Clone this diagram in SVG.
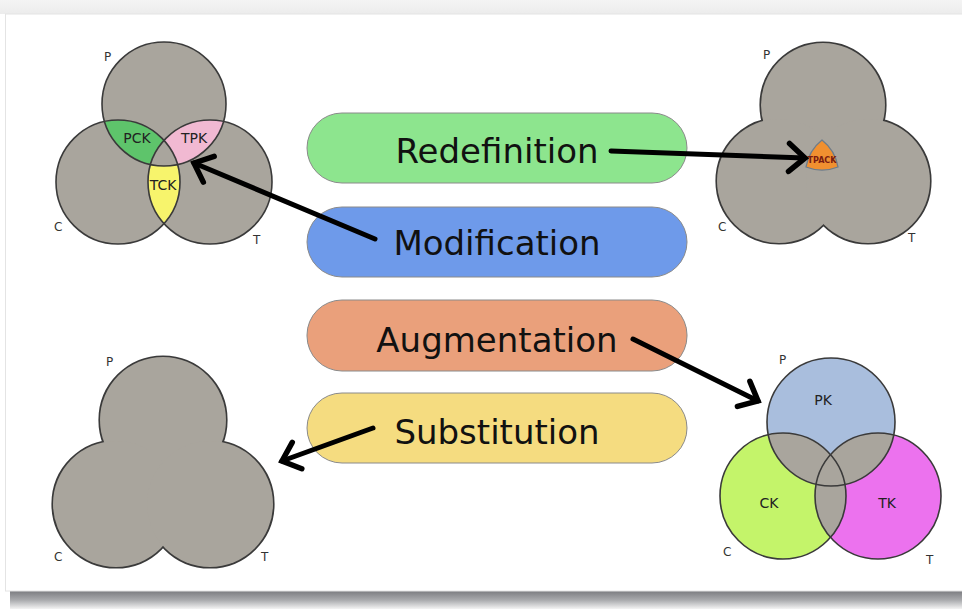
<svg xmlns="http://www.w3.org/2000/svg" width="962" height="613" viewBox="0 0 962 613">
<style>
  .lbl{font-family:"DejaVu Sans",Verdana,sans-serif;font-size:12px;fill:#333}
  .rg{font-family:"DejaVu Sans",Verdana,sans-serif;font-size:14px;fill:#222;text-anchor:middle}
  .pill{stroke:#8a8a8a;stroke-width:1}
  .pt{font-family:"DejaVu Sans",Verdana,sans-serif;font-size:34px;fill:#111;text-anchor:middle}
  .ol{fill:none;stroke:#3a3a3a;stroke-width:1.6}
  .gray{fill:#a9a59d}
  .conn{stroke:#000;stroke-width:5;fill:none;stroke-linecap:round;marker-end:url(#chev)}
</style>
<defs>
  <linearGradient id="topg" x1="0" y1="0" x2="0" y2="1">
    <stop offset="0" stop-color="#f4f4f4"/><stop offset="1" stop-color="#ececec"/>
  </linearGradient>
  <linearGradient id="shd" x1="0" y1="0" x2="0" y2="1">
    <stop offset="0" stop-color="#7b7c80"/><stop offset="0.5" stop-color="#a9aaad"/><stop offset="1" stop-color="#f4f4f4"/>
  </linearGradient>
  <marker id="chev" markerUnits="userSpaceOnUse" viewBox="-24 -18 28 36" markerWidth="28" markerHeight="36" refX="0" refY="0" orient="auto">
    <path d="M-16,-14 L0,0 L-16,14" fill="none" stroke="#000" stroke-width="5.5" stroke-linecap="round" stroke-linejoin="miter"/>
  </marker>
  <clipPath id="tlP"><circle cx="164" cy="104" r="62"/></clipPath>
  <clipPath id="tlC"><circle cx="118" cy="182" r="62"/></clipPath>
  <clipPath id="tlT"><circle cx="210" cy="182" r="62"/></clipPath>
  <clipPath id="brP"><circle cx="831" cy="422" r="64"/></clipPath>
  <clipPath id="brC"><circle cx="783" cy="496" r="63"/></clipPath>
  <clipPath id="brT"><circle cx="878" cy="496" r="63"/></clipPath>
</defs>

<rect x="0" y="0" width="962" height="613" fill="#ffffff"/>
<rect x="0" y="0" width="962" height="14" fill="url(#topg)"/>
<rect x="10" y="591" width="952" height="18" fill="url(#shd)"/>
<rect x="5.5" y="14" width="960" height="577" fill="#ffffff" stroke="#e4e4e4" stroke-width="1"/>

<!-- top-left: Venn with overlaps -->
<g id="venn-modification">
  <circle class="gray" cx="164" cy="104" r="62"/>
  <circle class="gray" cx="118" cy="182" r="62"/>
  <circle class="gray" cx="210" cy="182" r="62"/>
  <circle cx="118" cy="182" r="62" fill="#5ec46b" clip-path="url(#tlP)"/>
  <circle cx="210" cy="182" r="62" fill="#f1b9d2" clip-path="url(#tlP)"/>
  <circle cx="210" cy="182" r="62" fill="#f7f46c" clip-path="url(#tlC)"/>
  <g clip-path="url(#tlC)"><circle class="gray" cx="164" cy="104" r="62" clip-path="url(#tlT)"/></g>
  <circle class="ol" cx="164" cy="104" r="62"/>
  <circle class="ol" cx="118" cy="182" r="62"/>
  <circle class="ol" cx="210" cy="182" r="62"/>
  <text class="rg" x="137" y="143">PCK</text>
  <text class="rg" x="194" y="143">TPK</text>
  <text class="rg" x="163" y="190">TCK</text>
  <text class="lbl" x="104" y="61">P</text>
  <text class="lbl" x="54" y="231">C</text>
  <text class="lbl" x="253" y="244">T</text>
</g>

<!-- top-right: union with TPACK -->
<g id="venn-redefinition">
  <circle cx="823" cy="105" r="62" fill="#a9a59d" stroke="#3a3a3a" stroke-width="3.2"/>
  <circle cx="779" cy="181" r="62" fill="#a9a59d" stroke="#3a3a3a" stroke-width="3.2"/>
  <circle cx="868" cy="181" r="62" fill="#a9a59d" stroke="#3a3a3a" stroke-width="3.2"/>
  <circle class="gray" cx="823" cy="105" r="62"/>
  <circle class="gray" cx="779" cy="181" r="62"/>
  <circle class="gray" cx="868" cy="181" r="62"/>
  <path d="M822,140 A44,44 0 0 1 838,167 A44,44 0 0 1 806,167 A44,44 0 0 1 822,140 Z" fill="#f09030" stroke="#6d7c8a" stroke-width="1.3" stroke-linejoin="round"/>
  <text x="822" y="163" font-family="DejaVu Sans,Verdana,sans-serif" font-size="9" font-weight="bold" fill="#7a1c10" text-anchor="middle" textLength="29" lengthAdjust="spacingAndGlyphs">TPACK</text>
  <text class="lbl" x="763" y="59">P</text>
  <text class="lbl" x="718" y="231">C</text>
  <text class="lbl" x="908" y="242" font-size="10">T</text>
</g>

<!-- bottom-left: union -->
<g id="venn-substitution">
  <circle cx="163" cy="420" r="63" fill="#a9a59d" stroke="#3a3a3a" stroke-width="3.2"/>
  <circle cx="116" cy="504" r="63" fill="#a9a59d" stroke="#3a3a3a" stroke-width="3.2"/>
  <circle cx="210" cy="504" r="63" fill="#a9a59d" stroke="#3a3a3a" stroke-width="3.2"/>
  <circle class="gray" cx="163" cy="420" r="63"/>
  <circle class="gray" cx="116" cy="504" r="63"/>
  <circle class="gray" cx="210" cy="504" r="63"/>
  <text class="lbl" x="106" y="366">P</text>
  <text class="lbl" x="54" y="561">C</text>
  <text class="lbl" x="261" y="561">T</text>
</g>

<!-- bottom-right: separate knowledge bases -->
<g id="venn-augmentation">
  <circle cx="831" cy="422" r="64" fill="#a9bedd"/>
  <circle cx="783" cy="496" r="63" fill="#c4f46a"/>
  <circle cx="878" cy="496" r="63" fill="#ec72ee"/>
  <circle class="gray" cx="783" cy="496" r="63" clip-path="url(#brP)"/>
  <circle class="gray" cx="878" cy="496" r="63" clip-path="url(#brP)"/>
  <circle class="gray" cx="878" cy="496" r="63" clip-path="url(#brC)"/>
  <circle class="ol" cx="831" cy="422" r="64"/>
  <circle class="ol" cx="783" cy="496" r="63"/>
  <circle class="ol" cx="878" cy="496" r="63"/>
  <text class="rg" x="823" y="405">PK</text>
  <text class="rg" x="769" y="508">CK</text>
  <text class="rg" x="887" y="508">TK</text>
  <text class="lbl" x="779" y="364">P</text>
  <text class="lbl" x="723" y="556">C</text>
  <text class="lbl" x="926" y="564">T</text>
</g>

<!-- pills -->
<g id="redefinition">
  <rect class="pill" x="307" y="113" width="380" height="70" rx="35" fill="#8de58e"/>
  <text class="pt" x="497" y="163">Redefinition</text>
</g>
<g id="modification">
  <rect class="pill" x="307" y="207" width="380" height="70" rx="35" fill="#6e9aea"/>
  <text class="pt" x="497" y="255">Modification</text>
</g>
<g id="augmentation">
  <rect class="pill" x="307" y="300" width="380" height="71" rx="35" fill="#eaa07b"/>
  <text class="pt" x="497" y="352">Augmentation</text>
</g>
<g id="substitution">
  <rect class="pill" x="307" y="393" width="380" height="70" rx="35" fill="#f5dc80"/>
  <text class="pt" x="497" y="444">Substitution</text>
</g>

<!-- connectors -->
<g id="connectors">
  <line class="conn" x1="611" y1="151" x2="805" y2="158"/>
  <line class="conn" x1="375" y1="239" x2="194" y2="163"/>
  <line class="conn" x1="633" y1="339" x2="758" y2="401"/>
  <line class="conn" x1="373" y1="428" x2="282" y2="461"/>
</g>
</svg>
